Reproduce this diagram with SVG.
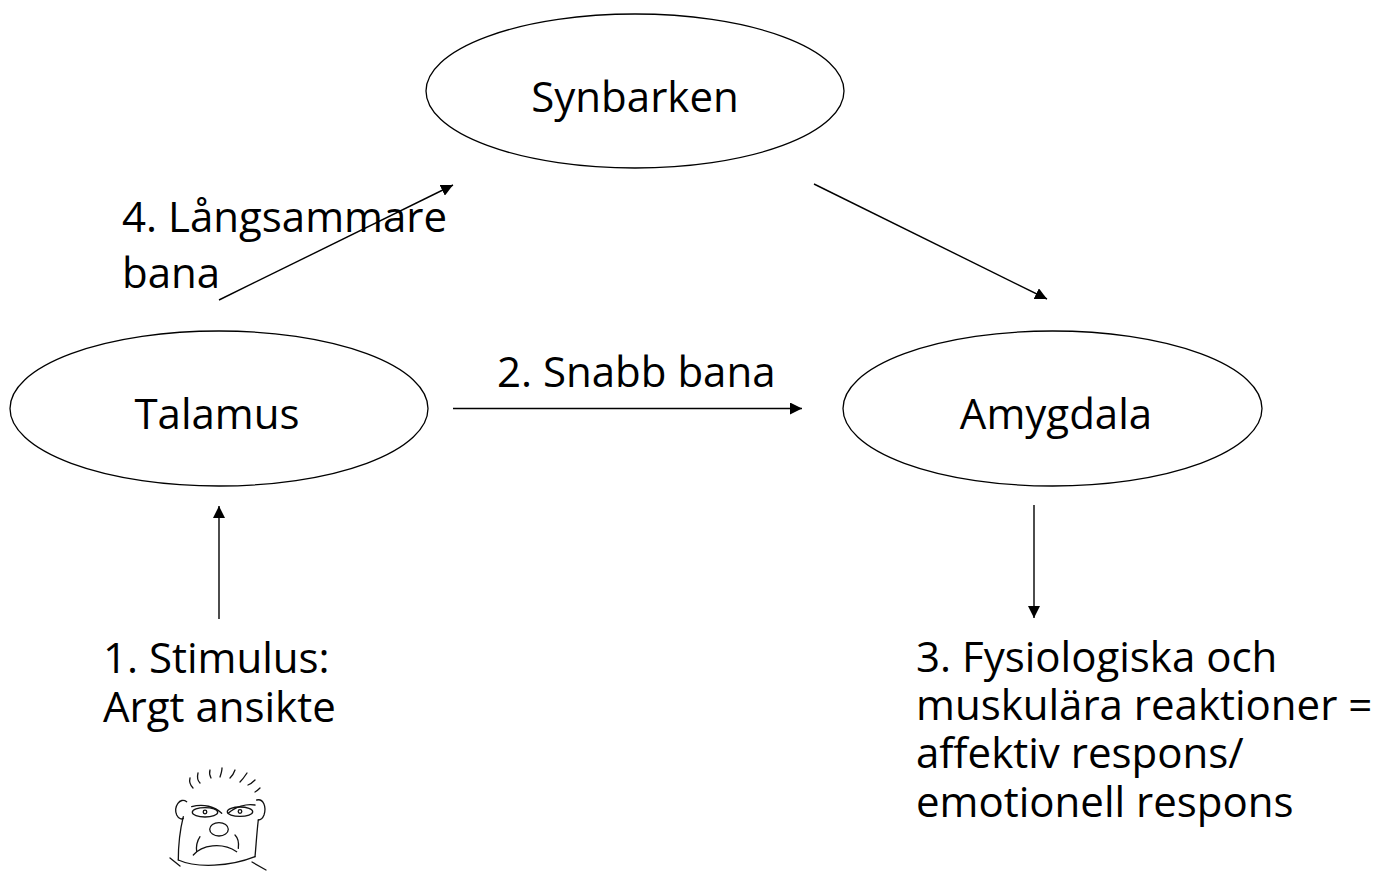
<svg xmlns="http://www.w3.org/2000/svg" width="1391" height="874" viewBox="0 0 1391 874">
<style>
.node ellipse{fill:#fff;stroke:#000;stroke-width:1.3}
text{font-family:"Open Sans","Liberation Sans",sans-serif;font-size:42px;fill:#000}
.mid{text-anchor:middle}
#connectors line{stroke:#000;stroke-width:1.4;marker-end:url(#arr)}
#face path,#face ellipse,#face circle{fill:none;stroke:#111;stroke-width:1.3;stroke-linecap:round}
</style>
<defs>
<marker id="arr" markerUnits="userSpaceOnUse" markerWidth="13" markerHeight="12" refX="12" refY="6" orient="auto">
<path d="M0,0 L12,6 L0,12 z" fill="#000"/>
</marker>
</defs>
<rect width="1391" height="874" fill="#fff"/>
<g id="synbarken" class="node">
<ellipse cx="635" cy="91" rx="209" ry="77"/>
<text x="635" y="112" class="mid">Synbarken</text>
</g>
<g id="talamus" class="node">
<ellipse cx="219" cy="408.5" rx="209" ry="77.5"/>
<text x="217" y="429" class="mid">Talamus</text>
</g>
<g id="amygdala" class="node">
<ellipse cx="1052.5" cy="408.5" rx="209.5" ry="77.5"/>
<text x="1056" y="429" class="mid">Amygdala</text>
</g>
<g id="connectors">
<line x1="219" y1="619" x2="219" y2="506"/>
<line x1="453" y1="408.5" x2="802" y2="408.5"/>
<line x1="1034" y1="505" x2="1034" y2="618"/>
<line x1="219" y1="300" x2="453" y2="185"/>
<line x1="814" y1="184" x2="1047" y2="299"/>
</g>
<g id="label-slow">
<text x="122" y="232">4. Långsammare</text>
<text x="122" y="288">bana</text>
</g>
<g id="label-fast">
<text x="497" y="387">2. Snabb bana</text>
</g>
<g id="stimulus">
<text x="103" y="673">1. Stimulus:</text>
<text x="103" y="722">Argt ansikte</text>
</g>
<g id="response">
<text x="916" y="672">3. Fysiologiska och</text>
<text x="916" y="720">muskulära reaktioner =</text>
<text x="916" y="768">affektiv respons/</text>
<text x="916" y="817">emotionell respons</text>
</g>
<g id="face">
<path d="M190,778 C189,782 191,786 193,788"/>
<path d="M198,773 C197,777 198,781 200,783"/>
<path d="M210,770 C209,773 210,776 211,778"/>
<path d="M222,768 C222,771 221,774 220,777"/>
<path d="M235,770 C234,773 232,776 230,778"/>
<path d="M247,773 C245,776 243,779 240,782"/>
<path d="M255,780 C253,782 251,784 248,785"/>
<path d="M260,788 C258,790 257,791 255,792"/>
<path d="M186.7,801.7 C180,796.7 173.3,806.7 176.7,815 C178.3,818.3 181.7,820 183.3,818.3"/>
<path d="M183.3,816.7 C180,830 178.3,846.7 178.3,860"/>
<path d="M178.3,860 C196.7,868.3 230,866.7 255,856.7"/>
<path d="M258.3,820 C256.7,833.3 256,846.7 255,856.7"/>
<path d="M256.7,800 C263.3,798.3 266.7,806.7 264,815 C262.7,818.3 260,820 258.3,820"/>
<path d="M170,858 L180,866"/>
<path d="M252,862 L266,870"/>
<path d="M191.7,806.7 C203.3,803.3 215,806.7 221.7,813.3"/>
<path d="M228.3,813.3 C235,806.7 246.7,803.3 255,805"/>
<ellipse cx="205" cy="812.3" rx="12.7" ry="4.7"/>
<ellipse cx="240" cy="811.7" rx="12.7" ry="4.7"/>
<circle cx="205" cy="812" r="1.8"/>
<circle cx="240" cy="811.5" r="1.8"/>
<ellipse cx="219" cy="829.3" rx="9.3" ry="6.7"/>
<path d="M193.3,855 C201.7,845 221.7,841.7 236.7,851.7"/>
<path d="M200,836.7 C196.7,841.7 196,846.7 196.7,851.7"/>
<path d="M235,835 C238.3,838.3 239,843.3 238.3,848.3"/>
</g>
</svg>
